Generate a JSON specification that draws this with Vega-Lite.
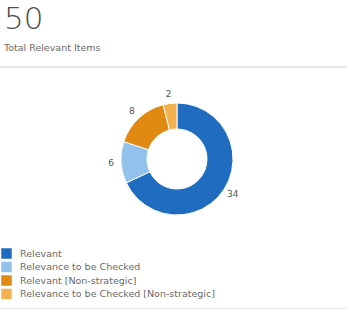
{
  "$schema": "https://vega.github.io/schema/vega-lite/v6.json",
  "width": 340,
  "height": 184,
  "autosize": {"type": "none"},
  "padding": {"left": 7, "top": 67, "right": 0, "bottom": 58},
  "background": "white",
  "title": {
    "text": "50",
    "subtitle": "Total Relevant Items",
    "anchor": "start",
    "dx": 5,
    "offset": 13,
    "fontSize": 31,
    "fontWeight": 200,
    "color": "#4d4d4d",
    "font": "DejaVu Sans",
    "subtitleFont": "DejaVu Sans",
    "subtitleFontSize": 9.5,
    "subtitleColor": "#6a6a6a",
    "subtitlePadding": 7
  },
  "data": {
    "values": [
      {"category": "Relevant", "value": 34, "idx": 1},
      {"category": "Relevance to be Checked", "value": 6, "idx": 2},
      {"category": "Relevant [Non-strategic]", "value": 8, "idx": 3},
      {"category": "Relevance to be Checked [Non-strategic]", "value": 2, "idx": 4}
    ]
  },
  "layer": [
    {
      "data": {"values": [{"line": "top"}]},
      "mark": {"type": "rule", "color": "#e6e6e6", "strokeWidth": 2},
      "encoding": {"y": {"value": 0}, "x": {"value": -7}, "x2": {"value": 340}}
    },
    {
      "data": {"values": [{"line": "bottom"}]},
      "mark": {"type": "rule", "color": "#dde7f0", "strokeWidth": 2},
      "encoding": {"y": {"value": 242}, "x": {"value": -7}, "x2": {"value": 340}}
    },
    {
      "mark": {"type": "arc", "innerRadius": 30, "outerRadius": 56, "stroke": "white", "strokeWidth": 1},
      "encoding": {
        "theta": {"field": "value", "type": "quantitative", "stack": true},
        "order": {"field": "idx", "type": "quantitative"},
        "color": {
          "field": "category",
          "type": "nominal",
          "sort": null,
          "scale": {
            "domain": ["Relevant", "Relevance to be Checked", "Relevant [Non-strategic]", "Relevance to be Checked [Non-strategic]"],
            "range": ["#1f6cc0", "#92c2ec", "#e08a13", "#f3b24f"]
          },
          "legend": {
            "title": null,
            "orient": "none",
            "legendX": -6,
            "legendY": 181,
            "direction": "vertical",
            "symbolType": "square",
            "symbolSize": 110,
            "symbolStrokeWidth": 0,
            "labelFontSize": 9.5,
            "labelFont": "DejaVu Sans",
            "labelColor": "#6a6a6a",
            "labelOffset": 8,
            "labelLimit": 320,
            "rowPadding": 2.5,
            "padding": 0
          }
        }
      }
    },
    {
      "mark": {"type": "text", "radius": 66, "fontSize": 9, "font": "DejaVu Sans", "color": "#555555"},
      "encoding": {
        "theta": {"field": "value", "type": "quantitative", "stack": true},
        "order": {"field": "idx", "type": "quantitative"},
        "text": {"field": "value", "type": "quantitative"}
      }
    }
  ],
  "config": {"view": {"stroke": null}}
}
